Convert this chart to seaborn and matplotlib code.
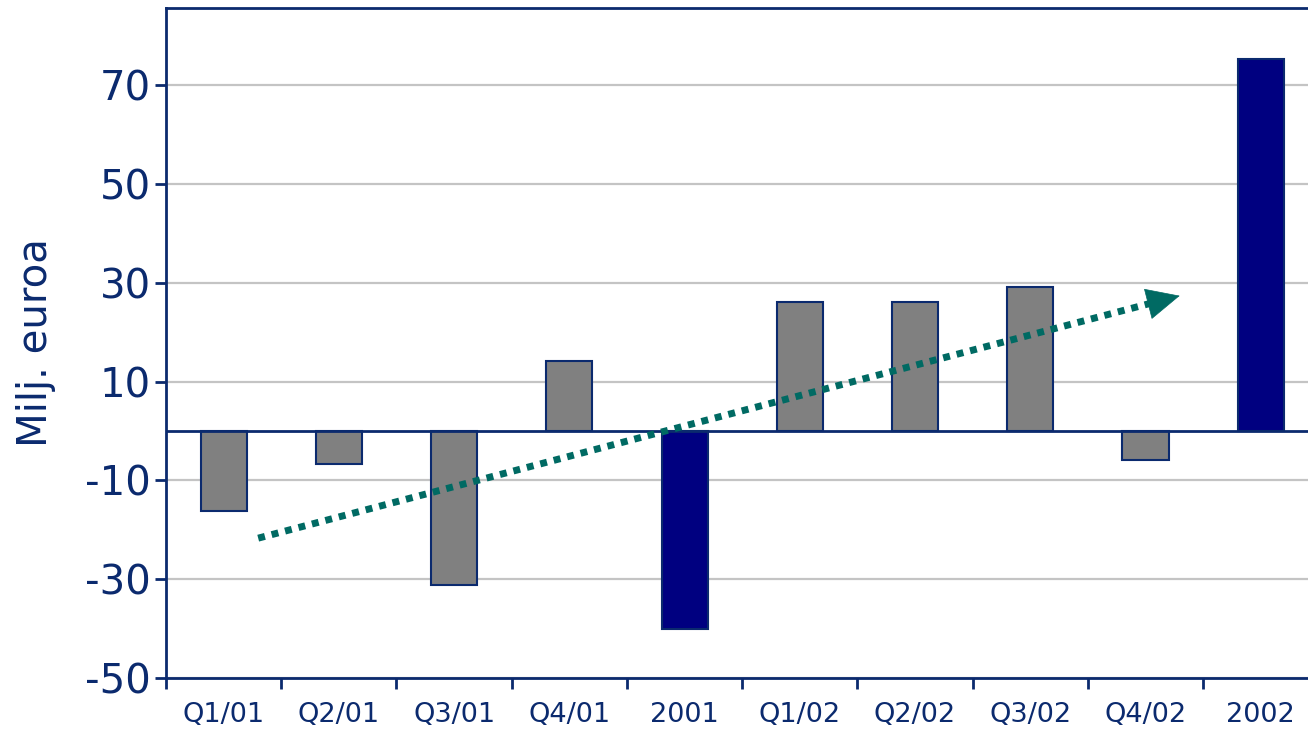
import seaborn as sns
import matplotlib.pyplot as plt
import pandas as pd
from matplotlib.ticker import FixedLocator

# data
periods = ["Q1/01", "Q2/01", "Q3/01", "Q4/01", "2001",
           "Q1/02", "Q2/02", "Q3/02", "Q4/02", "2002"]
result = [-16.2, -6.7, -31.2, 14.2, -40.0, 26.1, 26.1, 29.1, -5.9, 75.3]
kind = ["quarter", "quarter", "quarter", "quarter", "year",
        "quarter", "quarter", "quarter", "quarter", "year"]
y_ticks = [-50, -30, -10, 10, 30, 50, 70]

# trend arrow (category position, value)
trend_start = (0.3, -21.7)
trend_end = (8.32, 27.5)

navy = "#0b2a6e"
teal = "#006a63"

df = pd.DataFrame({"period": periods, "value": result, "kind": kind})

sns.set_theme(style="white")
plt.rcParams["font.family"] = ["DejaVu Sans"]

fig = plt.figure(figsize=(13.08, 7.31), dpi=100)
ax = fig.add_axes([166 / 1308, 53 / 731, 1 - 166 / 1308, 670 / 731])

sns.barplot(data=df, x="period", y="value", hue="kind", order=periods,
            palette={"quarter": "#808080", "year": "#000080"}, saturation=1,
            dodge=False, width=0.4, edgecolor=navy, linewidth=1.5,
            legend=False, ax=ax, zorder=3)

ax.set_ylim(-50, 85.6)
ax.set_xlim(-0.5, 9.41)
ax.set_yticks(y_ticks)
ax.yaxis.grid(True, color="#c4c4c4", linewidth=1.6, zorder=0)
ax.set_axisbelow(True)
ax.axhline(0, color=navy, linewidth=2, zorder=4)

ax.xaxis.set_minor_locator(FixedLocator([i + 0.5 for i in range(-1, len(periods) - 1)]))
ax.tick_params(axis="x", which="major", length=0, pad=17, labelsize=19.5, labelcolor=navy)
ax.tick_params(axis="x", which="minor", length=8, width=2, color=navy, direction="out", bottom=True)
ax.tick_params(axis="y", length=8, width=2, color=navy, direction="out", left=True,
               pad=3, labelsize=29, labelcolor=navy)
ax.set_yticklabels([str(v) for v in y_ticks])

for side in ["left", "top", "bottom"]:
    ax.spines[side].set_color(navy)
    ax.spines[side].set_linewidth(2)
ax.spines["right"].set_visible(False)

ax.set_xlabel("")
ax.set_ylabel("Milj. euroa", fontsize=29, color=navy)
ax.yaxis.set_label_coords(-0.0965, 0.5)

# dotted trend line with a solid head
ax.plot([trend_start[0], trend_end[0] - 0.2], [trend_start[1], trend_end[1] - 1.2],
        linestyle=(0, (1, 1)), color=teal, linewidth=5, zorder=5,
        dash_capstyle="butt")
ax.annotate("", xy=trend_end, xytext=(trend_end[0] - 0.25, trend_end[1] - 1.5),
            arrowprops=dict(arrowstyle="-|>,head_length=1.9,head_width=0.9",
                            color=teal, linewidth=0.5),
            zorder=6)

fig.savefig("out.png", dpi=100)
